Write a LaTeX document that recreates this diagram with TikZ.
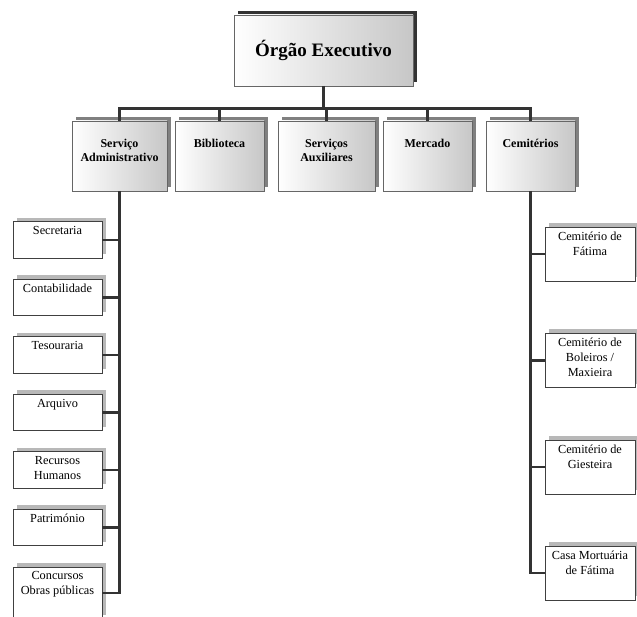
\documentclass[tikz,border=0pt]{standalone}
\usepackage{fontspec}
\setmainfont{Liberation Serif}
\begin{document}
\begin{tikzpicture}[x=1pt,y=-1pt,
  conn/.style={draw=black!80, line width=2.2pt},
  topbox/.style={draw=black!60, line width=0.7pt, inner sep=0pt, outer sep=0pt,
    left color=white, right color=black!22,
    preaction={fill=black!80, transform canvas={shift={(4pt,4pt)}}},
    font=\fontsize{19}{22}\selectfont\bfseries},
  midbox/.style={draw=black!60, line width=0.7pt, inner sep=0pt, outer sep=0pt,
    minimum height=70pt, left color=white, right color=black!22,
    preaction={fill=black!50, transform canvas={shift={(4pt,4pt)}}}},
  midtext/.style={label={[anchor=north, yshift=-17.5pt, inner sep=0pt, align=center,
    font=\fontsize{12}{14}\selectfont\bfseries]north:#1}},
  leafbox/.style={draw=black!75, line width=0.7pt, fill=white, inner sep=0pt, outer sep=0pt,
    preaction={fill=black!28, transform canvas={shift={(4pt,4pt)}}}},
  leaftext/.style={label={[anchor=north, yshift=-4.5pt, inner sep=0pt, align=center,
    font=\fontsize{12.3}{15}\selectfont]north:#1}}
]
\useasboundingbox (0,0) rectangle (637,617);

% top
\node[topbox, minimum width=179pt, minimum height=71pt] (top) at (323.5,50.5) {Órgão Executivo};

% second level
\node[midbox, minimum width=95pt, midtext={Serviço\\Administrativo}] (adm) at (119.5,156) {};
\node[midbox, minimum width=89pt, midtext={Biblioteca}] (bib) at (219.5,156) {};
\node[midbox, minimum width=97pt, midtext={Serviços\\Auxiliares}] (aux) at (326.5,156) {};
\node[midbox, minimum width=89pt, midtext={Mercado}] (mer) at (427.5,156) {};
\node[midbox, minimum width=89pt, midtext={Cemitérios}] (cem) at (530.5,156) {};

% left leaves
\node[leafbox, minimum width=89pt, minimum height=36.5pt, leaftext={Secretaria}] (l1) at (57.5,240) {};
\node[leafbox, minimum width=89pt, minimum height=36.5pt, leaftext={Contabilidade}] (l2) at (57.5,297.5) {};
\node[leafbox, minimum width=89pt, minimum height=36.5pt, leaftext={Tesouraria}] (l3) at (57.5,355) {};
\node[leafbox, minimum width=89pt, minimum height=36.5pt, leaftext={Arquivo}] (l4) at (57.5,412.5) {};
\node[leafbox, minimum width=89pt, minimum height=36.5pt, leaftext={Recursos\\Humanos}] (l5) at (57.5,470) {};
\node[leafbox, minimum width=89pt, minimum height=36.5pt, leaftext={Património}] (l6) at (57.5,527.5) {};
\node[leafbox, minimum width=89pt, minimum height=52pt, leaftext={Concursos\\Obras públicas}] (l7) at (57.5,593) {};

% right leaves
\node[leafbox, minimum width=90pt, minimum height=54pt, leaftext={Cemitério de\\Fátima}] (r1) at (590,254) {};
\node[leafbox, minimum width=90pt, minimum height=54pt, leaftext={Cemitério de\\Boleiros /\\Maxieira}] (r2) at (590,360.5) {};
\node[leafbox, minimum width=90pt, minimum height=54pt, leaftext={Cemitério de\\Giesteira}] (r3) at (590,467) {};
\node[leafbox, minimum width=90pt, minimum height=54pt, leaftext={Casa Mortuária\\de Fátima}] (r4) at (590,573) {};

% bus
\coordinate (bus) at (119.5,108.5);
\draw[conn] (top.south) -- (top.south |- bus);
\draw[conn] (adm.north) -- (adm.north |- bus) -| (cem.north);
\draw[conn] (bib.north) -- (bib.north |- bus);
\draw[conn] (aux.north) -- (aux.north |- bus);
\draw[conn] (mer.north) -- (mer.north |- bus);

% left tree
\draw[conn] (adm.south) |- (l7.east);
\foreach \n in {l1,l2,l3,l4,l5,l6}
  \draw[conn] (\n.east) -- (\n.east -| adm.south);

% right tree
\draw[conn] (cem.south) |- (r4.west);
\foreach \n in {r1,r2,r3}
  \draw[conn] (\n.west) -- (\n.west -| cem.south);
\end{tikzpicture}
\end{document}
